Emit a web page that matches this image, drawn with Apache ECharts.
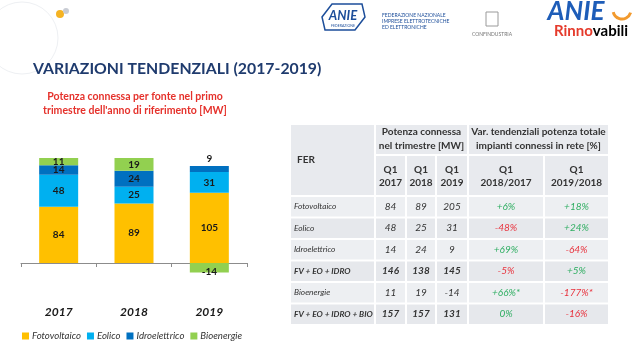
<!DOCTYPE html>
<html>
<head>
<meta charset="utf-8">
<script src="https://cdn.jsdelivr.net/npm/echarts@6/dist/echarts.min.js"></script>
<style>
html,body{margin:0;padding:0;background:#fff;}
#c{width:640px;height:349px;}
</style>
</head>
<body>
<div id="c"></div>
<script>
// ---- chart data ----
const categories = ['2017', '2018', '2019'];
const seriesNames = ['Fotovoltaico', 'Eolico', 'Idroelettrico', 'Bioenergie'];
const fotovoltaico = [84, 89, 105];
const eolico = [48, 25, 31];
const idroelettrico = [14, 24, 9];
const bioenergie = [11, 19, -14];
const seriesColors = ['#FFC000', '#00B0F0', '#0070C0', '#92D050'];

// ---- table data ----
const tableRows = ['Fotovoltaico', 'Eolico', 'Idroelettrico', 'FV + EO + IDRO', 'Bioenergie', 'FV + EO + IDRO + BIO'];
const tableBoldRows = [false, false, false, true, false, true];
const q1_2017 = [84, 48, 14, 146, 11, 157];
const q1_2018 = [89, 25, 24, 138, 19, 157];
const q1_2019 = [205, 31, 9, 145, -14, 131];
const var2018_2017 = ['+6%', '-48%', '+69%', '-5%', '+66%*', '0%'];
const var2019_2018 = ['+18%', '+24%', '-64%', '+5%', '-177%*', '-16%'];

const FONT = 'Lato, "Open Sans", sans-serif';
const chart = echarts.init(document.getElementById('c'), null, {renderer: 'canvas'});

const labelBase = {show: true, position: 'inside', fontFamily: FONT, fontWeight: 'bold', fontSize: 10, color: '#1a1a1a'};
const seriesData = [fotovoltaico, eolico, idroelettrico, bioenergie];
const series = seriesNames.map((name, i) => ({
  name: name,
  type: 'bar',
  stack: 'tot',
  barWidth: 39,
  itemStyle: {color: seriesColors[i]},
  label: labelBase,
  data: seriesData[i].map((v, j) => {
    const d = {value: v};
    if (i === 2 && j === 2) d.label = {position: 'top', distance: 2};
    if (i === 3 && v < 0) d.label = {position: 'inside', offset: [0, 4]};
    return d;
  })
}));

// ---- table graphic ----
const colX = [290, 375, 406, 436, 468, 544, 609];
const hTop = 124, h1 = 155, h2 = 196, rowH = 21.5;
const cellFill = '#E8EAEE';
const g = [];
function cell(x0, y0, x1, y1, fill) {
  g.push({type: 'rect', shape: {x: x0 + 1, y: y0 + 1, width: x1 - x0 - 2, height: y1 - y0 - 2}, style: {fill: fill || cellFill}, silent: true});
}
function txt(x, y, text, opt) {
  g.push({type: 'text', x: x, y: y, silent: true, style: Object.assign({text: text, fontFamily: FONT, fontSize: 10, fill: '#333', align: 'center', verticalAlign: 'middle'}, opt || {})});
}
// header
cell(colX[0], hTop, colX[1], h2);
cell(colX[1], hTop, colX[4], h1);
cell(colX[4], hTop, colX[6], h1);
for (let c = 1; c < 6; c++) cell(colX[c], h1, colX[c + 1], h2);
txt(297, 160, 'FER', {align: 'left', fontWeight: 'bold'});
txt((colX[1] + colX[4]) / 2, 132, 'Potenza connessa', {fontWeight: 'bold'});
txt((colX[1] + colX[4]) / 2, 146, 'nel trimestre [MW]', {fontWeight: 'bold'});
txt((colX[4] + colX[6]) / 2, 132, 'Var. tendenziali potenza totale', {fontWeight: 'bold'});
txt((colX[4] + colX[6]) / 2, 146, 'impianti connessi in rete [%]', {fontWeight: 'bold'});
const subHead = [['Q1', '2017'], ['Q1', '2018'], ['Q1', '2019'], ['Q1', '2018/2017'], ['Q1', '2019/2018']];
subHead.forEach((s, c) => {
  const cx = (colX[c + 1] + colX[c + 2]) / 2;
  txt(cx, 170, s[0], {fontWeight: 'bold'});
  txt(cx, 183, s[1], {fontWeight: 'bold'});
});
tableRows.forEach((r, i) => {
  const y0 = h2 + i * rowH, y1 = y0 + rowH, cy = (y0 + y1) / 2;
  for (let c = 0; c < 6; c++) cell(colX[c], y0, colX[c + 1], y1, i % 2 ? '#E6E8EC' : '#EDEFF2');
  const b = tableBoldRows[i] ? 'bold' : 'normal';
  txt(294, cy, r, {align: 'left', fontStyle: 'italic', fontWeight: b, fontSize: 8.3});
  [q1_2017, q1_2018, q1_2019].forEach((arr, k) => {
    txt((colX[k + 1] + colX[k + 2]) / 2, cy, String(arr[i]), {fontStyle: 'italic', fontWeight: b});
  });
  [var2018_2017, var2019_2018].forEach((arr, k) => {
    const v = arr[i];
    txt((colX[k + 4] + colX[k + 5]) / 2, cy, v, {fontStyle: 'italic', fill: v.charAt(0) === '-' ? '#E8313C' : '#2FAE62'});
  });
});

// ---- titles / decoration ----
g.push({type: 'circle', shape: {cx: 22, cy: 38, r: 36}, style: {fill: 'none', stroke: '#EEF0F3', lineWidth: 1}, silent: true});
g.push({type: 'circle', shape: {cx: 60, cy: 14, r: 4}, style: {fill: '#F5B323'}, silent: true});
g.push({type: 'circle', shape: {cx: 66, cy: 11, r: 3}, style: {fill: '#C8CCD4'}, silent: true});
txt(33, 69, 'VARIAZIONI TENDENZIALI (2017-2019)', {align: 'left', fontSize: 15.8, fontWeight: 'bold', fill: '#1F3B6E'});
txt(135, 97, 'Potenza connessa per fonte nel primo', {fontSize: 10.5, fontWeight: 'bold', fill: '#E5312B'});
txt(135, 111, "trimestre dell'anno di riferimento [MW]", {fontSize: 10.5, fontWeight: 'bold', fill: '#E5312B'});
// ANIE Federazione logo
g.push({type: 'polygon', shape: {points: [[322, 17], [332, 4], [362, 4], [365, 17], [355, 30], [325, 30]]}, style: {fill: '#fff', stroke: '#1D4E9A', lineWidth: 1.5}, silent: true});
txt(343, 16, 'ANIE', {fontSize: 13, fontWeight: 'bold', fontStyle: 'italic', fill: '#1D4E9A'});
txt(343, 26, 'FEDERAZIONE', {fontSize: 3.5, fill: '#1D4E9A'});
txt(382, 15, 'FEDERAZIONE NAZIONALE', {align: 'left', fontSize: 5, fill: '#1D4E9A'});
txt(382, 21, 'IMPRESE ELETTROTECNICHE', {align: 'left', fontSize: 5, fill: '#1D4E9A'});
txt(382, 27, 'ED ELETTRONICHE', {align: 'left', fontSize: 5, fill: '#1D4E9A'});
// Confindustria
g.push({type: 'rect', shape: {x: 486, y: 12, width: 12, height: 14}, style: {fill: 'none', stroke: '#9A9A9A', lineWidth: 1}, silent: true});
txt(492, 34, 'CONFINDUSTRIA', {fontSize: 5, fill: '#777'});
// ANIE Rinnovabili
txt(576, 12, 'ANIE', {fontSize: 26, fontWeight: 'bold', fontStyle: 'italic', fill: '#1E5DB8'});
g.push({type: 'arc', shape: {cx: 622, cy: 10, r: 9, startAngle: 0.3, endAngle: 2.9}, style: {stroke: '#F29A2E', lineWidth: 3, fill: 'none'}, silent: true});
g.push({type: 'text', x: 591, y: 31, silent: true, style: {text: '{a|Rinno}{b|vabili}', align: 'center', verticalAlign: 'middle', rich: {a: {fontFamily: FONT, fontSize: 15, fontWeight: 'bold', fill: '#E53B2C', color: '#E53B2C'}, b: {fontFamily: FONT, fontSize: 15, fontWeight: 'bold', color: '#F08A24'}}}});

const option = {
  backgroundColor: '#fff',
  animation: false,
  textStyle: {fontFamily: FONT},
  grid: {left: 21, right: 393, top: 142.6, bottom: 72.6},
  legend: {
    data: seriesNames, left: 17, top: 326, itemWidth: 7, itemHeight: 7, itemGap: 6, icon: 'rect',
    textStyle: {fontFamily: FONT, fontStyle: 'italic', fontSize: 9.6, color: '#333', padding: [0, 0, 0, -2]}
  },
  xAxis: {
    type: 'category', data: categories,
    axisLine: {onZero: true, lineStyle: {color: '#8c8c8c', width: 1}},
    axisTick: {show: true, length: 4, lineStyle: {color: '#8c8c8c'}},
    axisLabel: {margin: 30, fontFamily: FONT, fontWeight: 'bold', fontStyle: 'italic', fontSize: 12, color: '#1a1a1a'}
  },
  yAxis: {type: 'value', min: -20, max: 180, show: false, splitLine: {show: false}},
  series: series,
  graphic: g
};
chart.setOption(option);
</script>
</body>
</html>
